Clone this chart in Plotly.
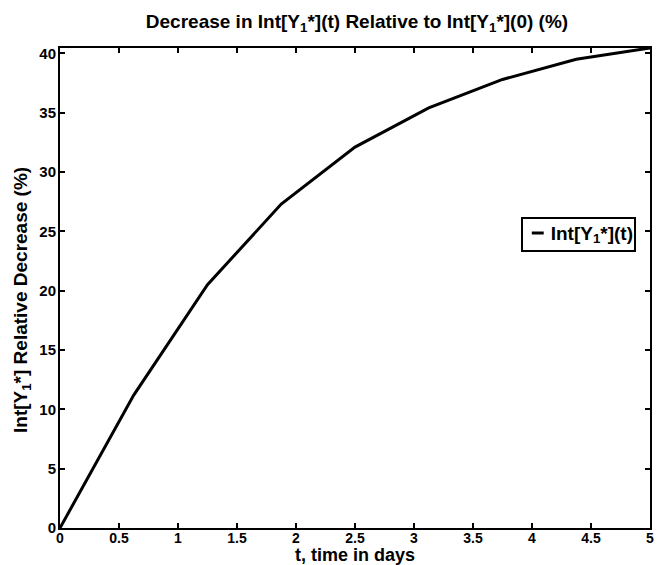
import plotly.graph_objects as go

t_days = [0, 0.625, 1.25, 1.875, 2.5, 3.125, 3.75, 4.375, 5.0]
decrease_pct = [0, 11.2, 20.5, 27.3, 32.1, 35.4, 37.8, 39.5, 40.45]
x_ticks = [0, 0.5, 1, 1.5, 2, 2.5, 3, 3.5, 4, 4.5, 5]
x_tick_labels = ["0", "0.5", "1", "1.5", "2", "2.5", "3", "3.5", "4", "4.5", "5"]
y_ticks = [0, 5, 10, 15, 20, 25, 30, 35, 40]
y_tick_labels = ["0", "5", "10", "15", "20", "25", "30", "35", "40"]
series_name = "Int[Y<sub>1</sub>*](t)"

FONT = "Liberation Sans"

W, H = 657, 565
ml, mr, mt, mb = 60, 3, 48, 37
pw, ph = W - ml - mr, H - mt - mb


def px_x(p):
    return (p - ml) / pw


def px_y(p):
    return (H - mb - p) / ph


fig = go.Figure()
fig.add_trace(go.Scatter(
    x=t_days, y=decrease_pct, mode="lines",
    line=dict(color="black", width=3),
    name=series_name, showlegend=False,
))

axis_common = dict(
    showline=True, linecolor="black", linewidth=2, mirror="ticks",
    ticks="inside", ticklen=5, tickwidth=1.5, tickcolor="black",
    showgrid=False, zeroline=False,
)

fig.update_layout(
    width=W, height=H,
    margin=dict(l=ml, r=mr, t=mt, b=mb),
    plot_bgcolor="white", paper_bgcolor="white",
    font=dict(family=FONT, color="black"),
    xaxis=dict(range=[0, 5], tickvals=x_ticks, ticktext=x_tick_labels,
               ticklabelstandoff=-4,
               tickfont=dict(family=FONT, size=14, color="black", weight="bold"),
               **axis_common),
    yaxis=dict(range=[0, 40.45], tickvals=y_ticks, ticktext=y_tick_labels,
               ticklabelstandoff=-1,
               tickfont=dict(family=FONT, size=15, color="black", weight="bold"),
               **axis_common),
    showlegend=False,
    title=dict(
        text="<b>Decrease in Int[Y<sub>1</sub>*](t) Relative to Int[Y<sub>1</sub>*](0) (%)</b>",
        x=(ml + pw / 2) / W, xanchor="center",
        y=1 - 21 / H, yanchor="middle",
        font=dict(family=FONT, size=19, color="black"),
    ),
    annotations=[
        dict(text="<b>t, time in days</b>", xref="paper", yref="paper",
             x=0.5, y=0, yshift=-27, xanchor="center", yanchor="middle",
             showarrow=False, font=dict(family=FONT, size=18, color="black")),
        dict(text="<b>Int[Y<sub>1</sub>*] Relative Decrease (%)</b>", xref="paper", yref="paper",
             x=0, xshift=-38, y=px_y(300), xanchor="center", yanchor="middle", textangle=-90,
             showarrow=False, font=dict(family=FONT, size=19, color="black")),
        # legend box
        dict(text="<b>" + series_name + "</b>", xref="paper", yref="paper",
             x=px_x(524), y=px_y(217), xanchor="left", yanchor="top",
             width=109, height=29, align="right", valign="middle",
             bordercolor="black", borderwidth=2, borderpad=1, bgcolor="rgba(0,0,0,0)",
             showarrow=False, font=dict(family=FONT, size=19, color="black")),
    ],
    shapes=[
        dict(type="line", xref="paper", yref="paper", layer="above",
             x0=px_x(535), x1=px_x(547), y0=px_y(233), y1=px_y(233),
             line=dict(color="black", width=3)),
    ],
)

fig.write_html("out.html")
